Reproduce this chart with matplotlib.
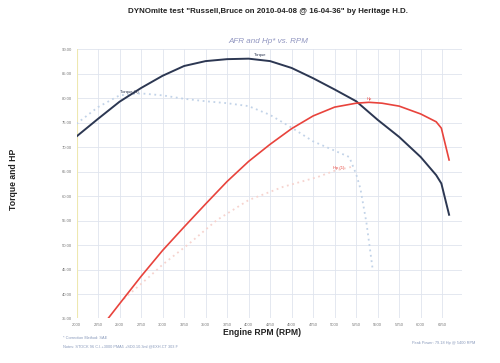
import matplotlib
matplotlib.use("Agg")
import matplotlib.pyplot as plt
import numpy as np

plt.rcParams['font.family'] = ['Liberation Sans', 'DejaVu Sans']

# --- data ---
torque_rpm = [2000, 2250, 2500, 2750, 3000, 3250, 3500, 3750, 4000, 4250, 4500, 4750,
              5000, 5250, 5500, 5750, 6000, 6180, 6240, 6330]
torque = [72.2, 75.8, 79.3, 82.1, 84.6, 86.6, 87.6, 88.0, 88.1, 87.6, 86.2, 84.1,
          81.8, 79.4, 75.6, 72.1, 68.0, 64.3, 62.6, 56.2]

hp_rpm = [2367, 2500, 2750, 3000, 3250, 3500, 3750, 4000, 4250, 4500, 4750, 5000,
          5250, 5400, 5550, 5750, 6000, 6180, 6240, 6330]
hp = [35.0, 38.0, 43.6, 48.9, 53.7, 58.4, 63.0, 67.1, 70.6, 73.8, 76.4, 78.2,
      79.0, 79.18, 79.0, 78.4, 76.8, 75.2, 73.9, 67.4]

torque1_rpm = [2000, 2250, 2500, 2750, 3000, 3250, 3500, 3750, 4000, 4250, 4500, 4750,
               5000, 5170, 5250, 5300, 5370, 5440]
torque1 = [74.8, 78.2, 80.6, 81.0, 80.6, 79.9, 79.4, 79.0, 78.4, 76.6, 74.0, 71.2,
           69.3, 68.0, 64.5, 61.5, 54.5, 45.3]

hp1_rpm = [2550, 2850, 3000, 3316, 3630, 4000, 4400, 4800, 5000, 5200]
hp1 = [39.0, 43.6, 46.0, 50.4, 55.1, 59.2, 61.9, 63.9, 65.2, 66.0]

x_ticks = [2000, 2250, 2500, 2750, 3000, 3250, 3500, 3750, 4000, 4250, 4500, 4750,
           5000, 5250, 5500, 5750, 6000, 6250]
y_ticks = [35, 40, 45, 50, 55, 60, 65, 70, 75, 80, 85, 90]

title = 'DYNOmite test "Russell,Bruce on 2010-04-08 @ 16-04-36" by Heritage H.D.'
subtitle = 'AFR and Hp* vs. RPM'
note1 = '* Correction Method: SAE'
note2 = 'Notes: STOCK 96 C.I.+3000 PMA5 +SD0.10.3ml @EXH.CT 303 F'
peak_note = 'Peak Power: 79.18 Hp @ 5400 RPM'

navy = '#2c3752'
red = '#e8433c'
lblue = '#c2d3e8'
pink = '#f6d3ce'

fig = plt.figure(figsize=(5.0, 3.63), dpi=100)
ax = fig.add_axes([0.153, 0.1226, 0.771, 0.7414])

ax.plot(torque1_rpm, torque1, color=lblue, lw=1.3, ls=(0, (1, 2)), zorder=2)
ax.plot(hp1_rpm, hp1, color=pink, lw=1.3, ls=(0, (1, 2)), zorder=2)
ax.plot(torque_rpm, torque, color=navy, lw=1.4, zorder=3)
ax.plot(hp_rpm, hp, color=red, lw=1.2, zorder=3)

ax.set_xlim(2000, 6480)
ax.set_ylim(35, 90)
ax.set_xticks(x_ticks)
ax.set_yticks(y_ticks)
ax.set_xticklabels([str(t) for t in x_ticks])
ax.set_yticklabels(['%.2f' % t for t in y_ticks])
ax.tick_params(axis='both', labelsize=3, colors='#777777', length=0, pad=3)
ax.grid(True, color='#dfe4ee', lw=0.6)
ax.set_axisbelow(True)
for s in ax.spines.values():
    s.set_visible(False)
ax.axvline(2000, color='#eee8b0', lw=0.8, zorder=1)

# series labels
ax.annotate('Torque', xy=(torque_rpm[8], torque[8]), xytext=(4, 2), textcoords='offset points',
            fontsize=3, color=navy)
ax.annotate('Torque (1)', xy=(torque1_rpm[2], torque1[2]), xytext=(0, 1.5), textcoords='offset points',
            fontsize=3, color=navy)
ax.annotate('Hp', xy=(hp_rpm[13], hp[13]), xytext=(-2, 2), textcoords='offset points',
            fontsize=3, color=red)
ax.annotate('Hp (1)', xy=(hp1_rpm[8], hp1[8]), xytext=(-1, 1.5), textcoords='offset points',
            fontsize=3, color=red)

fig.text(0.536, 0.967, title, ha='center', va='center', fontsize=5.7, fontweight='bold', color='#222222')
fig.text(0.536, 0.887, subtitle, ha='center', va='center', fontsize=5.8, style='italic', color='#9095c0')
fig.text(0.524, 0.085, 'Engine RPM (RPM)', ha='center', va='center', fontsize=6.2, fontweight='bold', color='#222222')
fig.text(0.026, 0.507, 'Torque and HP', ha='center', va='center', rotation=90, fontsize=6.2, fontweight='bold', color='#222222')
fig.text(0.126, 0.068, note1, ha='left', va='center', fontsize=2.8, color='#8899bb')
fig.text(0.126, 0.047, note2, ha='left', va='center', fontsize=2.8, color='#8899bb')
fig.text(0.95, 0.055, peak_note, ha='right', va='center', fontsize=2.8, color='#8899bb')

fig.savefig('out.png', dpi=100, facecolor='white')
